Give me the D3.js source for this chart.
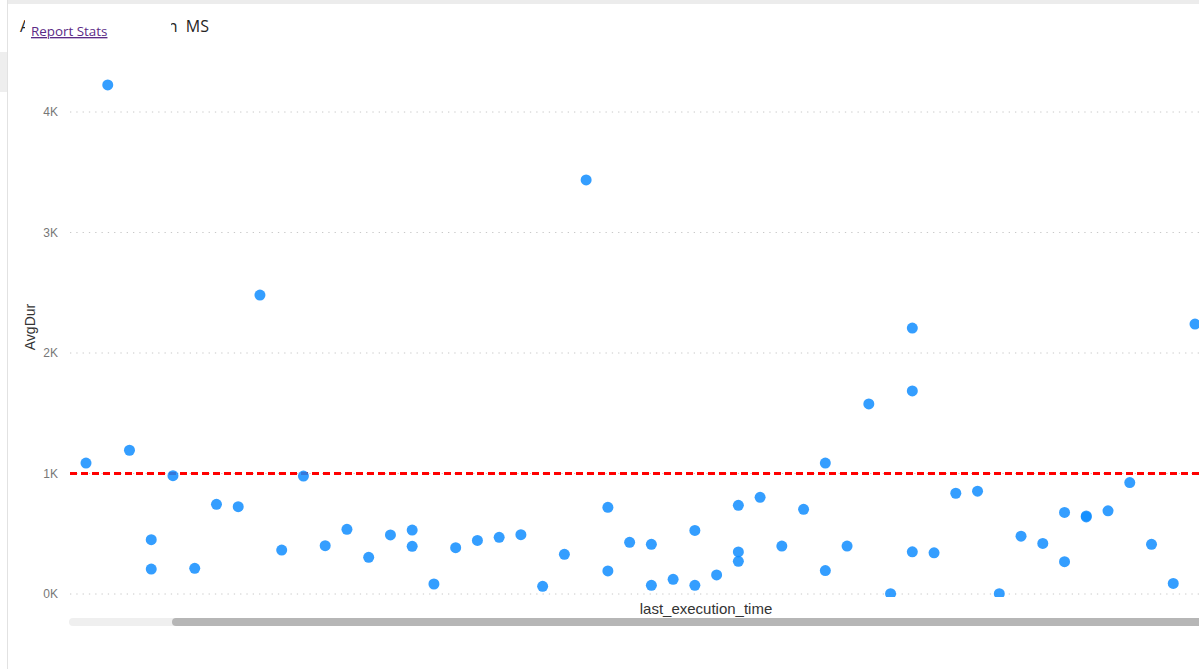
<!DOCTYPE html>
<html>
<head>
<meta charset="utf-8">
<script src="https://cdn.jsdelivr.net/npm/d3@7"></script>
<style>
  html, body { margin: 0; padding: 0; background: #fff; }
  svg { display: block; }
</style>
</head>
<body>
<svg id="chart" width="1199" height="669"></svg>
<script>
// ---- data ----
const titleStart = "A";        // visible start of the (covered) chart title
const titleEnd = "n MS";       // visible end of the (covered) chart title
const linkText = "Report Stats";
const xAxisTitle = "last_execution_time";
const yAxisTitle = "AvgDur";
// execution-time slot (position along the x axis) for each point
const slotIndex = [0, 1, 2, 3, 3, 4, 5, 6, 7, 8, 9, 10, 11, 12, 13, 14, 15, 15, 16, 17,
  18, 19, 20, 21, 22, 23, 24, 24, 25, 26, 26, 27, 28, 28, 29, 30, 30, 30, 31, 32,
  33, 34, 34, 35, 36, 37, 38, 38, 38, 39, 40, 41, 42, 43, 44, 45, 45, 46, 46, 47,
  48, 49, 50, 51];
// average duration (ms) for each point
const avgDur = [1087, 4225, 1193, 451, 207, 982, 213, 744, 725, 2481, 365, 979, 401, 537, 304, 490, 531, 396, 83, 384,
  445, 470, 492, 64, 329, 3436, 719, 191, 429, 412, 72, 122, 528, 72, 158, 736, 349, 271, 802, 398,
  703, 1087, 194, 398, 1577, 3, 2207, 1685, 350, 342, 836, 853, 3, 480, 420, 677, 268, 648, 640, 690,
  925, 412, 88, 2240];
const slotCount = [0, 51];
const yTicks = [0, 1000, 2000, 3000, 4000];
const yTickLabels = ["0K", "1K", "2K", "3K", "4K"];
const thresholdValue = [1000];

// ---- layout ----
const W = 1199, H = 669;
const plotLeft = 70, plotRight = 1199, plotBottom = 597;
const svg = d3.select("#chart");
const defs = svg.append("defs");

const x = d3.scaleLinear().domain(slotCount).range([86, 1195]);
const y = d3.scaleLinear().domain([0, 4000]).range([594, 112]);

// page chrome
svg.append("rect").attr("x", 0).attr("y", 0).attr("width", W).attr("height", H).attr("fill", "#ffffff");
svg.append("rect").attr("x", 7).attr("y", 0).attr("width", W - 7).attr("height", 4).attr("fill", "#ececec");
svg.append("rect").attr("x", 0).attr("y", 52).attr("width", 7).attr("height", 40).attr("fill", "#eeeeee");
svg.append("line").attr("x1", 7.5).attr("x2", 7.5).attr("y1", 0).attr("y2", H)
  .attr("stroke", "#e2e2e2").attr("stroke-width", 1);

// title fragments (the rest is hidden behind the link box)
defs.append("clipPath").attr("id", "clipTitleL")
  .append("rect").attr("x", 0).attr("y", 0).attr("width", 25).attr("height", 60);
defs.append("clipPath").attr("id", "clipTitleR")
  .append("rect").attr("x", 171).attr("y", 0).attr("width", 100).attr("height", 60);
svg.append("text")
  .attr("x", 20).attr("y", 32)
  .attr("clip-path", "url(#clipTitleL)")
  .attr("font-family", "'Open Sans', 'Noto Sans', sans-serif")
  .attr("font-size", 16)
  .attr("fill", "#252423")
  .text(titleStart);
svg.append("text")
  .attr("x", 209).attr("y", 32)
  .attr("text-anchor", "end")
  .attr("clip-path", "url(#clipTitleR)")
  .attr("font-family", "'Open Sans', 'Noto Sans', sans-serif")
  .attr("font-size", 16)
  .attr("word-spacing", 4)
  .attr("fill", "#252423")
  .text(titleEnd);
svg.append("text")
  .attr("x", 31).attr("y", 36)
  .attr("font-family", "'Open Sans', 'Noto Sans', sans-serif")
  .attr("font-size", 13.4)
  .attr("fill", "#5b2a86")
  .attr("text-decoration", "underline")
  .text(linkText);

// y axis labels
const yAxis = d3.axisLeft(y).tickValues(yTicks)
  .tickFormat((d, i) => yTickLabels[i])
  .tickSize(0).tickPadding(0);
const gy = svg.append("g").attr("transform", `translate(58,0)`).call(yAxis);
gy.select(".domain").remove();
gy.selectAll("text")
  .attr("font-family", "'Liberation Sans', Arial, sans-serif")
  .attr("font-size", 12)
  .attr("fill", "#777777");

// gridlines
svg.append("g").selectAll("line").data(yTicks).join("line")
  .attr("x1", plotLeft).attr("x2", plotRight)
  .attr("y1", d => y(d)).attr("y2", d => y(d))
  .attr("stroke", "#c8c8c8").attr("stroke-width", 1)
  .attr("stroke-dasharray", "1.3,5");

// axis titles
svg.append("text")
  .attr("transform", `translate(35,327) rotate(-90)`)
  .attr("text-anchor", "middle")
  .attr("font-family", "'Liberation Sans', Arial, sans-serif")
  .attr("font-size", 14)
  .attr("fill", "#333333")
  .text(yAxisTitle);
svg.append("text")
  .attr("x", 706).attr("y", 614)
  .attr("text-anchor", "middle")
  .attr("font-family", "'Liberation Sans', Arial, sans-serif")
  .attr("font-size", 15)
  .attr("fill", "#333333")
  .text(xAxisTitle);

// clip for the plot area
defs.append("clipPath").attr("id", "plotClip")
  .append("rect").attr("x", plotLeft).attr("y", 0)
  .attr("width", plotRight - plotLeft).attr("height", plotBottom);

const plot = svg.append("g").attr("clip-path", "url(#plotClip)");

// threshold line
plot.selectAll("line.threshold").data(thresholdValue).join("line")
  .attr("class", "threshold")
  .attr("x1", plotLeft).attr("x2", plotRight)
  .attr("y1", d => y(d)).attr("y2", d => y(d))
  .attr("stroke", "#ff0000").attr("stroke-width", 3)
  .attr("stroke-dasharray", "7,4");

// points
plot.selectAll("circle").data(avgDur).join("circle")
  .attr("cx", (d, i) => x(slotIndex[i]))
  .attr("cy", d => y(d))
  .attr("r", 5.5)
  .attr("fill", "#118DFF")
  .attr("fill-opacity", 0.85);

// scrollbar
svg.append("rect").attr("x", 69).attr("y", 618).attr("width", 1140).attr("height", 8)
  .attr("rx", 4).attr("fill", "#efefef");
svg.append("rect").attr("x", 172).attr("y", 618).attr("width", 1040).attr("height", 8)
  .attr("rx", 4).attr("fill", "#b6b6b6");
</script>
</body>
</html>
